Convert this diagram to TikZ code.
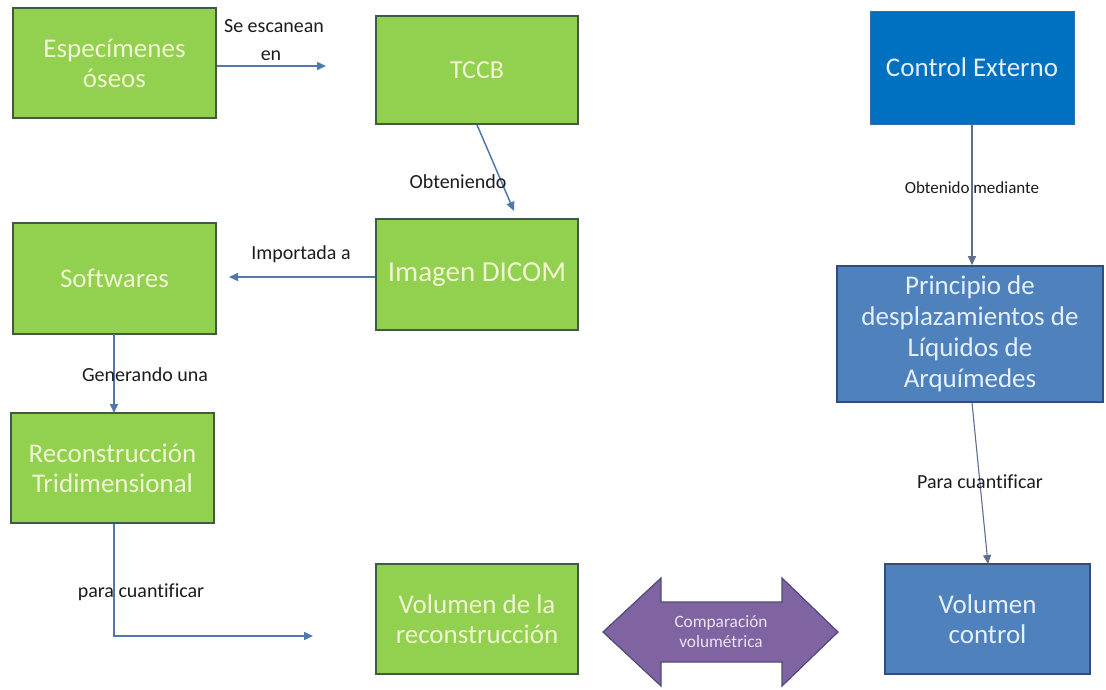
\documentclass[tikz,border=0pt]{standalone}
\usepackage{fontspec}
\setmainfont{Carlito}[Ligatures={NoCommon}]
\usetikzlibrary{arrows.meta}
\definecolor{gfill}{HTML}{92D050}
\definecolor{gline}{HTML}{3F5B48}
\definecolor{gtext}{HTML}{F1F6D2}
\definecolor{cfill}{HTML}{0070C0}
\definecolor{cline}{HTML}{2E6FB0}
\definecolor{bfill}{HTML}{4F81BD}
\definecolor{bline}{HTML}{2F4F78}
\definecolor{btext}{HTML}{E4F0FF}
\definecolor{pfill}{HTML}{8064A2}
\definecolor{pline}{HTML}{4E4A7A}
\definecolor{ptext}{HTML}{ECE2F6}
\definecolor{conn}{HTML}{4F79AE}
\definecolor{conng}{HTML}{5E6F8E}
\definecolor{lbl}{HTML}{1C1C1C}
\begin{document}
\begin{tikzpicture}[x=1pt,y=-1pt,
  boxtext/.style={align=center,font=\fontsize{27}{30}\selectfont},
  gbox/.style={boxtext,draw=gline,line width=1.6pt,fill=gfill,text=gtext,inner sep=0pt},
  cbox/.style={boxtext,draw=cline,line width=0.8pt,fill=cfill,text=btext,inner sep=0pt},
  bbox/.style={boxtext,draw=bline,line width=1.6pt,fill=bfill,text=btext,inner sep=0pt},
  lab/.style={text=lbl,font=\fontsize{20}{24}\selectfont,inner sep=0pt,align=center},
  slab/.style={text=lbl,font=\fontsize{17}{20}\selectfont,inner sep=0pt,align=center},
  conline/.style={draw=conn,line width=1.5pt},
  thinline/.style={draw=conng,line width=1.1pt},
  tip/.style={-{Triangle[length=9pt,width=8pt]}}
]
\useasboundingbox (0,0) rectangle (1106,690);
\fill[white] (0,0) rectangle (1106,690);

% boxes
\node[gbox,minimum width=203pt,minimum height=110pt] (esp) at (114.5,63) {Especímenes\\óseos};
\node[gbox,minimum width=202pt,minimum height=108pt,font=\fontsize{26}{29}\selectfont] (tccb) at (477,70) {TCCB};
\node[cbox,minimum width=204pt,minimum height=113pt] (ctrl) at (972,67.5) {Control Externo};
\node[gbox,minimum width=202pt,minimum height=111pt,font=\fontsize{29}{32}\selectfont] (dicom) at (477,274.5) {Imagen DICOM};
\node[gbox,minimum width=203pt,minimum height=111pt] (soft) at (114.5,278.5) {Softwares};
\node[bbox,minimum width=266pt,minimum height=136pt,font=\fontsize{27}{31}\selectfont] (princ) at (970,334) {Principio de\\desplazamientos de\\Líquidos de\\Arquímedes};
\node[gbox,minimum width=203pt,minimum height=110pt] (recon) at (112.5,468) {Reconstrucción\\Tridimensional};
\node[gbox,minimum width=202pt,minimum height=110pt] (volrec) at (477,619) {Volumen de la\\reconstrucción};
\node[bbox,minimum width=205pt,minimum height=110pt] (volctl) at (987.5,619) {Volumen\\control};

% double arrow
\draw[fill=pfill,draw=pline,line width=1.2pt,line join=miter]
  (603,632) -- (661,578) -- (661,602) -- (782,602) -- (782,578) -- (838,632)
  -- (782,686) -- (782,662) -- (661,662) -- (661,686) -- cycle;
\node[text=ptext,font=\fontsize{17.3}{20}\selectfont,align=center,inner sep=0pt] (cmp) at (721,632) {Comparación\\volumétrica};

% connectors
\coordinate (e1) at (326,66);
\draw[conline,tip] (esp.east |- e1) -- (e1);
\node[lab] (l1) at (274,26) {Se escanean};
\node[lab] (l1b) at (271,56) {en};

\coordinate (e2) at (514,211);
\draw[conline,tip] (tccb.south) -- (e2);
\node[lab] (l2) at (458,182) {Obteniendo};

\coordinate (e3) at (229,277);
\draw[conline,tip] (dicom.west |- e3) -- (e3);
\node[lab] (l3) at (301,254) {Importada a};

\draw[conline,tip] (114,334) coordinate (s4) -- (114,413) coordinate (e4);
\node[lab] (l4) at (145,375) {Generando una};

\coordinate (e5) at (313,636);
\draw[conline,tip] (recon.south -| 114,0) -- (114,636) -- (e5);
\node[lab] (l5) at (141,592) {para cuantificar};

\draw[thinline,tip] (ctrl.south) -- (princ.north -| ctrl.south);
\node[slab] (l6) at (972,188) {Obtenido mediante};

\coordinate (e7) at (988,564);
\draw[thinline,tip] (princ.south -| 972,0) -- (e7);
\node[lab] (l7) at (980,482) {Para cuantificar};
\end{tikzpicture}
\end{document}
